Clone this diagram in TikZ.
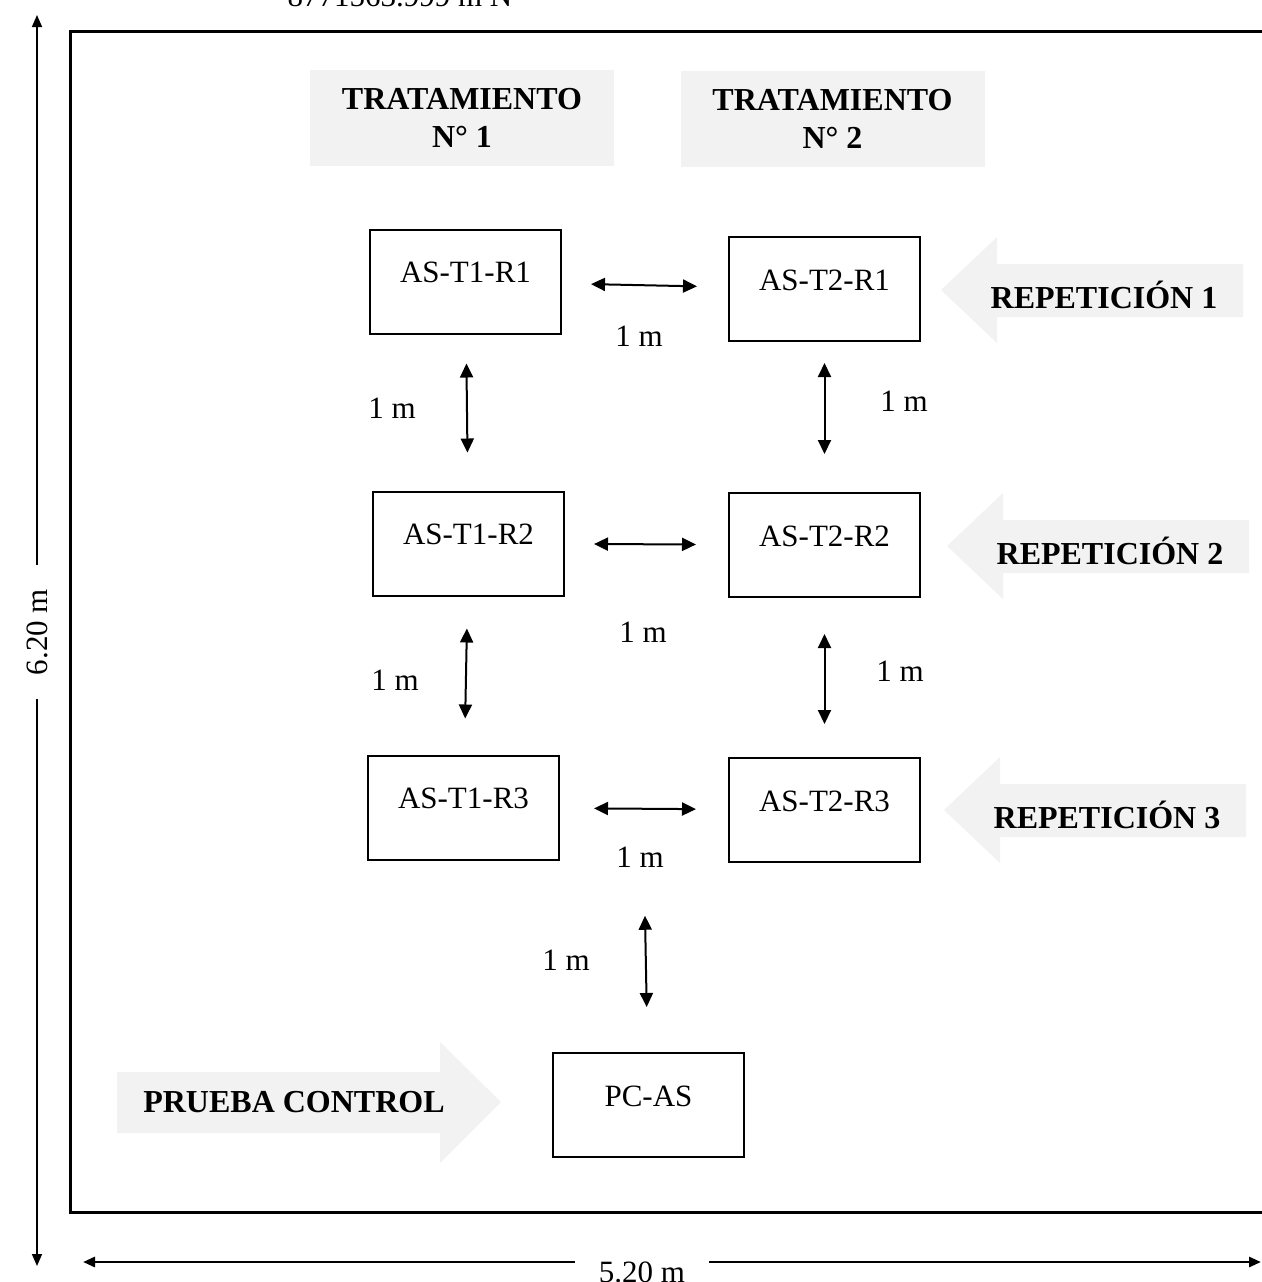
\documentclass[tikz,border=0pt]{standalone}
\usepackage{fontspec}
\setmainfont{Liberation Serif}
\usetikzlibrary{arrows.meta,calc}
\definecolor{bandgray}{HTML}{F2F2F2}

\begin{document}
\begin{tikzpicture}[x=0.5pt,y=-0.5pt,
    every node/.style={font=\fontsize{15.5pt}{19pt}\selectfont},
    plot/.style={draw, line width=1pt, minimum width=95.5pt, minimum height=52pt, text depth=9pt, inner sep=0pt},
    head/.style={fill=bandgray, minimum width=152pt, minimum height=48pt, align=center, font=\fontsize{16pt}{19pt}\selectfont\bfseries},
    tag/.style={font=\fontsize{16pt}{19pt}\selectfont\bfseries},
    sep/.style={{Triangle[length=7pt,width=6.5pt]}-{Triangle[length=7pt,width=6.5pt]}, line width=1pt},
    dim/.style={-{Triangle[length=6pt,width=5pt]}}]
    \useasboundingbox (0,0) rectangle (1262,1282);

    % Coordinates text (cut at the top)
    \node[anchor=base] (utm) at (400,6) {8771563.999 m N};

    % Plot border
    \draw[line width=1.5pt] (1275,31) -- (70,31) -- (70,1212) -- (1275,1212);

    % Dimensions
    \node[rotate=90, inner sep=12pt] (vlab) at (37,632) {6.20 m};
    \coordinate (vtop) at (37,15);
    \coordinate (vbot) at (37,1266);
    \draw[dim, line width=0.8pt] (vlab.east) -- (vtop);
    \draw[dim, line width=0.8pt] (vlab.west) -- (vbot);
    \node[inner sep=12pt] (hlab) at (642,1272) {5.20 m};
    \coordinate (hleft) at (83,1262);
    \coordinate (hright) at (1261,1262);
    \draw[dim, line width=1.4pt] (hleft -| hlab.west) -- (hleft);
    \draw[dim, line width=1.4pt] (hright -| hlab.east) -- (hright);

    % Treatments
    \node[head] (trat1) at (462,118) {TRATAMIENTO\\N° 1};
    \node[head] (trat2) at (832.5,119) {TRATAMIENTO\\N° 2};

    % Repetitions
    \foreach \i/\tx/\ty in {1/941/290, 2/947/546, 3/944/810}{
        \fill[bandgray] (\tx,\ty) -- ++(56,-53) -- ++(0,27) -- ++(246,0) -- ++(0,53) -- ++(-246,0) -- ++(0,26) -- cycle;
        \pgfmathsetmacro{\lx}{\tx+163}
        \pgfmathsetmacro{\ly}{\ty+5}
        \node[tag] (rep\i) at (\lx,\ly) {REPETICIÓN \i};
    }

    % Control
    \fill[bandgray] (501,1102) -- (440,1042) -- (440,1072) -- (117,1072) -- (117,1133) -- (440,1133) -- (440,1163) -- cycle;
    \node[tag] (ctrl) at (294,1102) {PRUEBA CONTROL};

    % Plots
    \node[plot] (t1r1) at (465.5,281.5) {AS-T1-R1};
    \node[plot] (t2r1) at (824.5,289) {AS-T2-R1};
    \node[plot] (t1r2) at (468.5,543.5) {AS-T1-R2};
    \node[plot] (t2r2) at (824.5,545) {AS-T2-R2};
    \node[plot] (t1r3) at (463.5,807.5) {AS-T1-R3};
    \node[plot] (t2r3) at (824.5,810) {AS-T2-R3};
    \node[plot] (pc) at (648.5,1105) {PC-AS};
    \coordinate (r3mid) at ($(t1r3.south)!0.5!(t2r3.south)$);

    % Distances
    \draw[sep, shorten <=14.5pt, shorten >=15.5pt] (t1r1) -- (t2r1);
    \draw[sep, shorten <=14.5pt, shorten >=16pt] (t1r2) -- (t2r2);
    \draw[sep, shorten <=17pt, shorten >=16pt] (t1r3) -- (t2r3);
    \draw[sep, shorten <=14.5pt, shorten >=19pt] (t1r1) -- (t1r2);
    \draw[sep, shorten <=10.5pt, shorten >=19pt] (t2r1) -- (t2r2);
    \draw[sep, shorten <=16pt, shorten >=18pt] (t1r2) -- (t1r3);
    \draw[sep, shorten <=18pt, shorten >=16.5pt] (t2r2) -- (t2r3);
    \draw[sep, shorten <=27pt, shorten >=22.5pt] (r3mid) -- (pc);

    \node (d1) at (639,336) {1 m};
    \node (d2) at (643,632) {1 m};
    \node (d3) at (640,857) {1 m};
    \node (d4) at (392,408) {1 m};
    \node (d5) at (904,401) {1 m};
    \node (d6) at (395,680) {1 m};
    \node (d7) at (900,671) {1 m};
    \node (d8) at (566,960) {1 m};
\end{tikzpicture}
\end{document}
